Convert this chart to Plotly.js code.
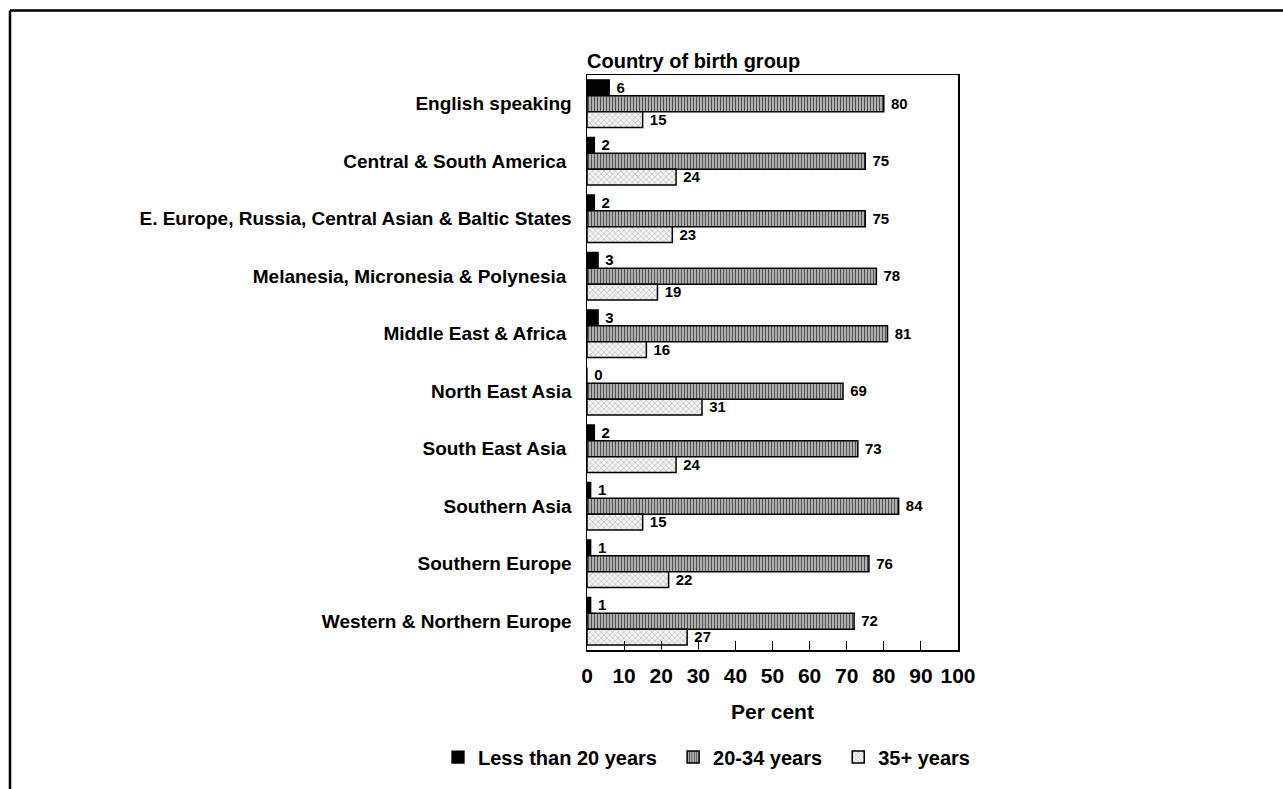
<!DOCTYPE html>
<html>
<head>
<meta charset="utf-8">
<script src="https://cdn.plot.ly/plotly-3.0.1.min.js"></script>
<style>
  html, body { margin: 0; padding: 0; background: #fff; }
  #chart { width: 1283px; height: 789px; }
</style>
</head>
<body>
<div id="chart"></div>
<script>
const categories = [
  "English speaking",
  "Central & South America ",
  "E. Europe, Russia, Central Asian & Baltic States",
  "Melanesia, Micronesia & Polynesia ",
  "Middle East & Africa ",
  "North East Asia",
  "South East Asia ",
  "Southern Asia",
  "Southern Europe",
  "Western & Northern Europe"
];
const seriesNames = ["Less than 20 years", "20-34 years", "35+ years"];
const lessThan20 = [6, 2, 2, 3, 3, 0, 2, 1, 1, 1];
const age20to34 = [80, 75, 75, 78, 81, 69, 73, 84, 76, 72];
const age35plus = [15, 24, 23, 19, 16, 31, 24, 15, 22, 27];
const xTicks = [0, 10, 20, 30, 40, 50, 60, 70, 80, 90, 100];

const FONT = "Liberation Sans, Arial, Helvetica, sans-serif";
const textFont = {family: FONT, size: 16, color: "#000", weight: "bold"};
const NB = "\u00a0";

function mk(name, vals, marker) {
  return {
    type: "bar",
    orientation: "h",
    name: name + NB + NB,
    y: categories,
    x: vals,
    text: vals.map(v => NB + String(v)),
    textposition: "outside",
    cliponaxis: false,
    textfont: textFont,
    marker: marker,
    hoverinfo: "x+y"
  };
}

const traces = [
  mk(seriesNames[0], lessThan20, {color: "#000", line: {color: "#000", width: 1.3}}),
  mk(seriesNames[1], age20to34, {
    color: "#fff",
    line: {color: "#000", width: 1.5},
    pattern: {shape: "|", fgcolor: "#505050", bgcolor: "#cfcfcf", size: 3, solidity: 0.5}
  }),
  mk(seriesNames[2], age35plus, {
    color: "#fff",
    line: {color: "#000", width: 1.5},
    pattern: {shape: "x", fgcolor: "#a0a0a0", bgcolor: "#f4f4f4", size: 4, solidity: 0.22}
  })
];

const L = 587, R = 958, T = 75, B = 655;
const pw = R - L, ph = B - T;
const px = v => (v - L) / pw;
const py = v => (B - v) / ph;

const layout = {
  width: 1283,
  height: 789,
  margin: {l: L, r: 1283 - R, t: T, b: 789 - B, pad: 0},
  paper_bgcolor: "#fff",
  plot_bgcolor: "#fff",
  font: {family: FONT, color: "#000", weight: "bold"},
  barmode: "group",
  bargap: 0.17,
  bargroupgap: 0,
  showlegend: true,
  title: {
    text: "Country of birth group",
    font: {family: FONT, size: 20, color: "#000", weight: "bold"},
    xref: "paper", yref: "paper",
    x: 0, xanchor: "left",
    y: 1, yanchor: "bottom",
    pad: {b: 7, l: 0, t: 0, r: 0}
  },
  xaxis: {
    range: [0, 100],
    tickvals: xTicks,
    ticktext: xTicks.map(String),
    ticks: "inside",
    ticklen: 9,
    tickwidth: 1,
    tickcolor: "#000",
    showgrid: false,
    zeroline: false,
    showline: true,
    linecolor: "#000",
    linewidth: 1.5,
    mirror: true,
    tickfont: {family: FONT, size: 21, color: "#000", weight: "bold"},
    ticklabelstandoff: 6,
    title: {
      text: "Per cent",
      font: {family: FONT, size: 21, color: "#000", weight: "bold"},
      standoff: 18
    },
    fixedrange: true
  },
  yaxis: {
    autorange: "reversed",
    type: "category",
    ticks: "",
    showgrid: false,
    zeroline: false,
    showline: true,
    linecolor: "#000",
    linewidth: 1.5,
    mirror: true,
    tickfont: {family: FONT, size: 19, color: "#000", weight: "bold"},
    ticklabelstandoff: 10,
    fixedrange: true
  },
  legend: {
    orientation: "h",
    x: px(438),
    xanchor: "left",
    y: py(763),
    yanchor: "middle",
    font: {family: FONT, size: 20, color: "#000", weight: "bold"},
    itemwidth: 30,
    tracegroupgap: 0,
    bgcolor: "rgba(0,0,0,0)"
  },
  shapes: [
    {type: "line", xref: "paper", yref: "paper", x0: px(10), x1: px(1300), y0: py(10), y1: py(10), line: {color: "#000", width: 2.5}},
    {type: "line", xref: "paper", yref: "paper", x0: px(10), x1: px(10), y0: py(10), y1: py(800), line: {color: "#000", width: 2.5}}
  ]
};

Plotly.newPlot("chart", traces, layout, {displayModeBar: false, staticPlot: true});
</script>
</body>
</html>
